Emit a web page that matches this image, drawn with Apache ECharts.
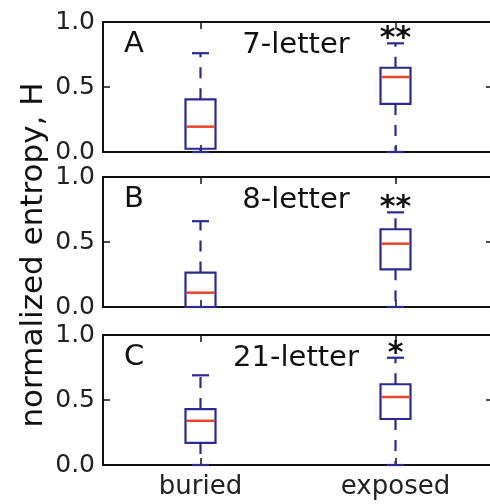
<!DOCTYPE html>
<html>
<head>
<meta charset="utf-8">
<script src="https://cdn.jsdelivr.net/npm/echarts@6/dist/echarts.min.js"></script>
<style>
html,body{margin:0;padding:0;background:#fff;}
#chart{width:490px;height:504px;}
</style>
</head>
<body>
<div id="chart"></div>
<script>
// ---- data ----
const categories = ['buried', 'exposed'];
const panelLetters = ['A', 'B', 'C'];
const panelTitles = ['7-letter', '8-letter', '21-letter'];
const significance = ['**', '**', '*'];
const yTicks = [0, 0.5, 1.0];
// [min, Q1, median, Q3, max]
const buriedStats = [
  [0, 0.025, 0.195, 0.405, 0.76],
  [0, 0.0, 0.11, 0.265, 0.66],
  [0, 0.17, 0.34, 0.43, 0.69]
];
const exposedStats = [
  [0, 0.37, 0.577, 0.648, 0.836],
  [0, 0.29, 0.487, 0.598, 0.728],
  [0, 0.354, 0.523, 0.621, 0.825]
];
const yAxisName = 'normalized entropy, H';

// ---- layout / style ----
const FONT = 'DejaVu Sans';
const gridLeft = 103, gridWidth = 390, gridHeight = 130;
const gridTops = [22, 177, 335];
const BLUE = '#2a2a92', RED = '#e8452a', BLACK = '#111';

const chart = echarts.init(document.getElementById('chart'), null, {renderer: 'canvas'});

const grids = [], xAxes = [], yAxes = [], series = [], graphics = [];

function boxRender(params, api) {
  const xi = api.value(0);
  const x = api.coord([xi, 0])[0];
  const y = v => api.coord([xi, v])[1];
  const yMin = y(api.value(1)), yQ1 = y(api.value(2)), yMed = y(api.value(3)),
        yQ3 = y(api.value(4)), yMax = y(api.value(5));
  const half = 15, capHalf = 8.5;
  const dashStyle = {stroke: BLUE, lineWidth: 2.2, lineDash: [11, 10]};
  const solid = {stroke: BLUE, lineWidth: 2.2};
  return {
    type: 'group',
    children: [
      {type: 'line', shape: {x1: x, y1: yQ3, x2: x, y2: yMax}, style: dashStyle},
      {type: 'line', shape: {x1: x, y1: yQ1, x2: x, y2: yMin}, style: dashStyle},
      {type: 'line', shape: {x1: x - capHalf, y1: yMax, x2: x + capHalf, y2: yMax}, style: solid},
      {type: 'line', shape: {x1: x - capHalf, y1: yMin, x2: x + capHalf, y2: yMin}, style: solid},
      {type: 'rect', shape: {x: x - half, y: yQ3, width: half * 2, height: yQ1 - yQ3},
        style: {stroke: BLUE, lineWidth: 2.2, fill: 'transparent'}},
      {type: 'line', shape: {x1: x - half + 1, y1: yMed, x2: x + half - 1, y2: yMed},
        style: {stroke: RED, lineWidth: 2.5}}
    ]
  };
}

for (let i = 0; i < 3; i++) {
  grids.push({left: gridLeft, width: gridWidth, top: gridTops[i], height: gridHeight,
    containLabel: false, outerBoundsMode: 'none'});
  const axisLine = {show: true, onZero: false, lineStyle: {color: BLACK, width: 2}};
  const tick = {show: true, inside: true, length: 7, lineStyle: {color: BLACK, width: 1.5}};
  xAxes.push({
    gridIndex: i, type: 'category', data: categories, position: 'bottom',
    boundaryGap: true, axisLine: axisLine,
    axisTick: Object.assign({alignWithLabel: true}, tick),
    axisLabel: {show: i === 2, margin: 9, color: '#222', fontFamily: FONT, fontSize: 26},
    splitLine: {show: false}
  });
  xAxes.push({
    gridIndex: i, type: 'category', data: categories, position: 'top',
    boundaryGap: true, axisLine: axisLine,
    axisTick: Object.assign({alignWithLabel: true}, tick),
    axisLabel: {show: false}, splitLine: {show: false}
  });
  yAxes.push({
    gridIndex: i, type: 'value', min: yTicks[0], max: yTicks[yTicks.length - 1], interval: 0.5,
    position: 'left', axisLine: axisLine, axisTick: tick,
    axisLabel: {margin: 8, color: '#222', fontFamily: FONT, fontSize: 25,
      formatter: v => v.toFixed(1)},
    splitLine: {show: false}
  });
  yAxes.push({
    gridIndex: i, type: 'value', min: yTicks[0], max: yTicks[yTicks.length - 1], interval: 0.5,
    position: 'right', axisLine: axisLine, axisTick: tick,
    axisLabel: {show: false}, splitLine: {show: false}
  });

  series.push({
    type: 'custom', xAxisIndex: 2 * i, yAxisIndex: 2 * i,
    renderItem: boxRender,
    encode: {x: 0, y: [1, 2, 3, 4, 5]},
    data: [[0].concat(buriedStats[i]), [1].concat(exposedStats[i])],
    clip: false, silent: true
  });
  const sig = significance[i];
  series.push({
    type: 'custom', xAxisIndex: 2 * i, yAxisIndex: 2 * i,
    encode: {x: 0, y: 1},
    data: [[1, exposedStats[i][4]]],
    clip: false, silent: true,
    renderItem: function (params, api) {
      const p = api.coord([api.value(0), api.value(1)]);
      return {type: 'text', style: {text: sig, x: p[0], y: p[1] - 4,
        fill: BLACK, font: 'bold 30px "' + FONT + '"', align: 'center', verticalAlign: 'middle'}};
    }
  });

  graphics.push({type: 'text', left: 124, top: gridTops[i] + 8,
    style: {text: panelLetters[i], fill: BLACK, font: '29px "' + FONT + '"'}});
  graphics.push({type: 'text', x: 296, y: gridTops[i] + 23,
    style: {text: panelTitles[i], fill: BLACK, font: '29px "' + FONT + '"',
      align: 'center', verticalAlign: 'middle'}});
}

graphics.push({type: 'text', x: 34, y: 255, rotation: Math.PI / 2,
  style: {text: yAxisName, fill: BLACK, font: '31px "' + FONT + '"',
    align: 'center', verticalAlign: 'middle'}});

chart.setOption({
  animation: false,
  backgroundColor: '#fff',
  grid: grids, xAxis: xAxes, yAxis: yAxes, series: series, graphic: graphics
});
</script>
</body>
</html>
